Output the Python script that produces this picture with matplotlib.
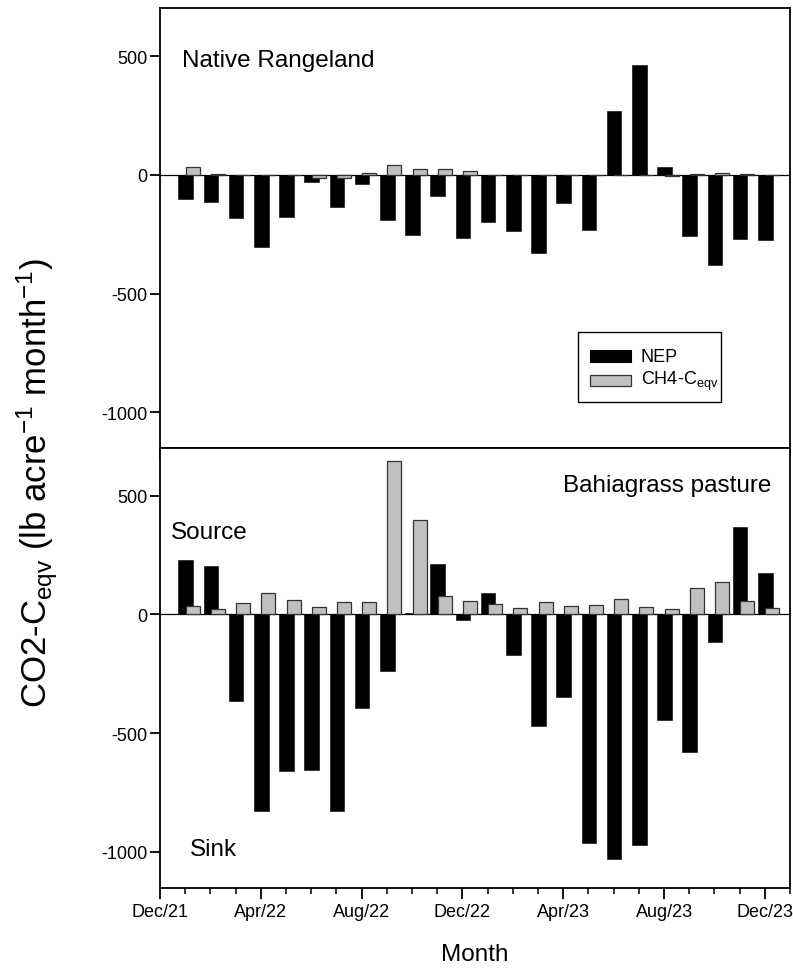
import matplotlib
matplotlib.use('Agg')
import matplotlib.pyplot as plt
from matplotlib.ticker import MultipleLocator
from matplotlib.patches import Rectangle
import numpy as np

plt.rcParams['font.family'] = ['Liberation Sans', 'DejaVu Sans']
plt.rcParams['mathtext.default'] = 'regular'
plt.rcParams['axes.unicode_minus'] = False

# month index counted from Dec/21 (=0); bars run Jan/22 .. Dec/23
months = list(range(1, 25))
tick_pos = [0, 4, 8, 12, 16, 20, 24]
tick_labels = ['Dec/21', 'Apr/22', 'Aug/22', 'Dec/22', 'Apr/23', 'Aug/23', 'Dec/23']

rangeland_nep = [-100, -114, -182, -305, -176, -31, -135, -39, -189, -252, -91, -267,
                 -197, -236, -329, -117, -231, 267, 462, 34, -257, -378, -270, -274]
rangeland_ch4 = [32, 3, 1, 0, 0, -12, -12, 6, 43, 24, 25, 14,
                 0, 0, 0, 0, 0, 0, 0, -6, 5, 8, 2, 0]

bahia_nep = [227, 204, -365, -827, -659, -655, -827, -394, -238, 4, 210, -25,
             90, -172, -469, -347, -962, -1032, -972, -445, -579, -117, 366, 175]
bahia_ch4 = [34, 24, 48, 88, 59, 29, 52, 50, 646, 399, 77, 56,
             42, 27, 50, 35, 38, 63, 29, 24, 109, 138, 55, 25]

GREY = '#c0c0c0'


def draw_panel(ax, nep, ch4):
    x = np.array(months)
    ax.axhline(0, color='black', lw=0.9, zorder=1)
    ax.bar(x + 0.02, nep, width=0.58, color='black', edgecolor='black', linewidth=0.4, zorder=2)
    ax.bar(x + 0.30, ch4, width=0.56, color=GREY, edgecolor='#333333', linewidth=0.9, zorder=3)
    ax.set_xlim(0, 25)
    ax.set_ylim(-1150, 700)
    ax.set_yticks([-1000, -500, 0, 500])
    ax.set_xticks(tick_pos)
    ax.xaxis.set_minor_locator(MultipleLocator(1))
    ax.tick_params(axis='x', which='major', direction='out', length=8, width=1.3,
                   labelsize=13, pad=3)
    ax.tick_params(axis='y', which='major', direction='out', length=7, width=1.3,
                   labelsize=13, pad=2)
    ax.tick_params(axis='x', which='minor', direction='out', length=4, width=1.1)
    ax.tick_params(axis='y', which='minor', left=False)
    for s in ax.spines.values():
        s.set_linewidth(1.3)


def draw_legend(ax):
    # box drawn by hand so the padding matches the original
    ax.add_patch(Rectangle((0.663, 0.105), 0.228, 0.159, transform=ax.transAxes,
                           facecolor='white', edgecolor='black', linewidth=1.0, zorder=5))
    ax.add_patch(Rectangle((0.682, 0.196), 0.065, 0.027, transform=ax.transAxes,
                           facecolor='black', edgecolor='black', linewidth=0.8, zorder=6))
    ax.add_patch(Rectangle((0.682, 0.141), 0.065, 0.025, transform=ax.transAxes,
                           facecolor=GREY, edgecolor='#333333', linewidth=0.9, zorder=6))
    ax.text(0.763, 0.209, 'NEP', transform=ax.transAxes, fontsize=13,
            ha='left', va='center', zorder=7)
    ax.text(0.763, 0.153, 'CH4-C$_{eqv}$', transform=ax.transAxes, fontsize=13,
            ha='left', va='center', zorder=7)


fig = plt.figure(figsize=(7.93, 9.78), dpi=100)
ax1 = fig.add_axes([0.2018, 0.5409, 0.7945, 0.4494])
ax2 = fig.add_axes([0.2018, 0.0915, 0.7945, 0.4494])

draw_panel(ax1, rangeland_nep, rangeland_ch4)
draw_panel(ax2, bahia_nep, bahia_ch4)

ax1.set_xticklabels([])
ax2.set_xticklabels(tick_labels)

ax1.text(0.87, 458, 'Native Rangeland', fontsize=17.5, ha='left', va='baseline')
ax2.text(24.27, 521, 'Bahiagrass pasture', fontsize=17.5, ha='right', va='baseline')
ax2.text(0.44, 323, 'Source', fontsize=17.5, ha='left', va='baseline')
ax2.text(1.19, -1013, 'Sink', fontsize=17.5, ha='left', va='baseline')

draw_legend(ax1)

ax2.set_xlabel('Month', fontsize=17.5, labelpad=17)
fig.text(0.047, 0.506, 'CO2-C$_{eqv}$ (lb acre$^{-1}$ month$^{-1}$)', rotation=90,
         ha='center', va='center', fontsize=25)

fig.savefig('out.png', dpi=100)
